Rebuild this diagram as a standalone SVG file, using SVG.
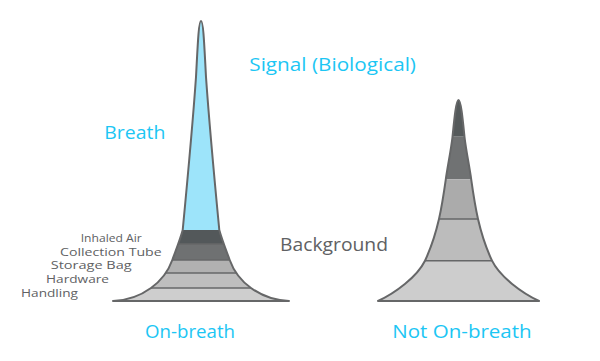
<svg xmlns="http://www.w3.org/2000/svg" width="600" height="361" viewBox="0 0 600 361">
<style>
.big{font-family:"Open Sans","Liberation Sans",sans-serif;font-size:18px}
.cy{fill:#1cc6f4}
.gy{fill:#606163}
.sm{font-family:"Open Sans","Liberation Sans",sans-serif;font-size:11.5px;fill:#606163}
.outline{fill:none;stroke:#666768;stroke-width:2;stroke-linejoin:round}
.sep{stroke:#666768;stroke-width:1.5}
</style>
<defs>
<clipPath id="clipL"><path id="pL" d="M113,301 C126,300.5 140,296 151,288 C160,281.5 168,272 172.3,260 C175.5,251 180,240 182.7,230 C185,206 193,120 196,77 C197.5,50 198.5,21 201,21 C203.5,21 204.5,50 206,77 C209,120 217,206 219.3,230 C222,240 226.5,251 229.7,260 C234,272 242,281.5 251,288 C262,296 276,300.5 289,301 Z"/></clipPath>
<clipPath id="clipR"><path id="pR" d="M378,301 C395,293 417,277 425,260.7 C430,250 436,232 439,219 C441,210 444,192 445.8,179.3 C447.5,167 451,150 452.5,137 C454,122 456,100 458.5,100 C461,100 463,122 464.5,137 C466,150 469.5,167 471.2,179.3 C473,192 476,210 478,219 C481,232 487,250 492,260.7 C500,277 522,293 539,301 Z"/></clipPath>
</defs>
<g id="node-onbreath">
<g clip-path="url(#clipL)">
<rect x="100" y="0" width="200" height="230" fill="#9de4fa"/>
<rect x="100" y="230" width="200" height="14" fill="#53585a"/>
<rect x="100" y="244" width="200" height="16" fill="#6f7172"/>
<rect x="100" y="260" width="200" height="13" fill="#b1b1b1"/>
<rect x="100" y="273" width="200" height="15" fill="#bebebe"/>
<rect x="100" y="288" width="200" height="14" fill="#cecece"/>
<line class="sep" x1="100" y1="244" x2="300" y2="244"/>
<line class="sep" x1="100" y1="260" x2="300" y2="260"/>
<line class="sep" x1="100" y1="273" x2="300" y2="273"/>
<line class="sep" x1="100" y1="288" x2="300" y2="288"/>
</g>
<use href="#pL" class="outline"/>
</g>
<g id="node-notonbreath">
<g clip-path="url(#clipR)">
<rect x="370" y="90" width="180" height="46.7" fill="#555a5b"/>
<rect x="370" y="136.7" width="180" height="42.6" fill="#707273"/>
<rect x="370" y="179.3" width="180" height="39.7" fill="#ababab"/>
<rect x="370" y="219" width="180" height="41.7" fill="#bcbcbc"/>
<rect x="370" y="260.7" width="180" height="41" fill="#cdcdcd"/>
<line class="sep" x1="370" y1="219" x2="550" y2="219"/>
<line class="sep" x1="370" y1="260.7" x2="550" y2="260.7"/>
</g>
<use href="#pR" class="outline"/>
</g>
<g id="labels">
<text class="big cy" x="249.3" y="71" textLength="166.7" lengthAdjust="spacingAndGlyphs">Signal (Biological)</text>
<text class="big cy" x="104.3" y="138.5" textLength="61" lengthAdjust="spacingAndGlyphs">Breath</text>
<text class="big gy" x="280" y="251.3" textLength="108" lengthAdjust="spacingAndGlyphs">Background</text>
<text class="big cy" x="145" y="337.7" textLength="90" lengthAdjust="spacingAndGlyphs">On-breath</text>
<text class="big cy" x="392.3" y="337.7" textLength="139.4" lengthAdjust="spacingAndGlyphs">Not On-breath</text>
<text class="sm" x="80.7" y="241.7" textLength="61" lengthAdjust="spacingAndGlyphs">Inhaled Air</text>
<text class="sm" x="60" y="255.7" textLength="101.7" lengthAdjust="spacingAndGlyphs">Collection Tube</text>
<text class="sm" x="50.7" y="269.3" textLength="81" lengthAdjust="spacingAndGlyphs">Storage Bag</text>
<text class="sm" x="46" y="283" textLength="63" lengthAdjust="spacingAndGlyphs">Hardware</text>
<text class="sm" x="21" y="296.7" textLength="57" lengthAdjust="spacingAndGlyphs">Handling</text>
</g>
</svg>
